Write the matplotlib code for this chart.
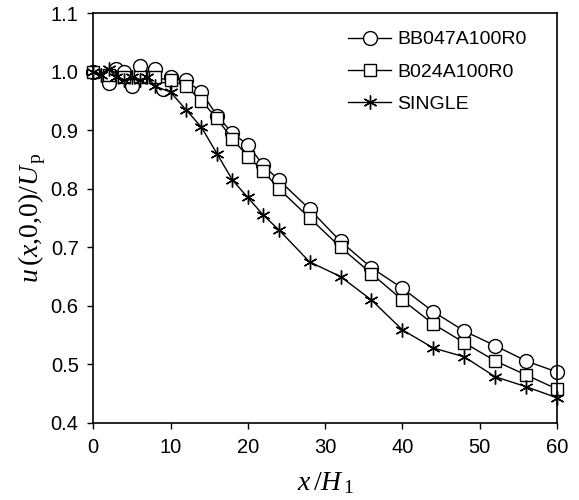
import numpy as np
import matplotlib
matplotlib.use("Agg")
import matplotlib.pyplot as plt

plt.rcParams['font.family'] = ['Liberation Sans', 'DejaVu Sans']
plt.rcParams['mathtext.fontset'] = 'custom'
plt.rcParams['mathtext.rm'] = 'Liberation Serif'
plt.rcParams['mathtext.it'] = 'Liberation Serif:italic'

# data
x_bb = [0, 2, 3, 4, 5, 6, 8, 9, 10, 12, 14, 16, 18, 20, 22, 24, 28, 32, 36, 40, 44, 48, 52, 56, 60]
y_bb = [1.0, 0.98, 1.005, 1.0, 0.975, 1.01, 1.005, 0.97, 0.99, 0.985, 0.965, 0.925, 0.895, 0.875,
        0.84, 0.815, 0.765, 0.71, 0.665, 0.63, 0.59, 0.557, 0.532, 0.506, 0.487]

x_b = [0, 2, 4, 6, 8, 10, 12, 14, 16, 18, 20, 22, 24, 28, 32, 36, 40, 44, 48, 52, 56, 60]
y_b = [1.0, 0.995, 0.99, 0.99, 0.99, 0.985, 0.975, 0.95, 0.92, 0.885, 0.855, 0.83, 0.8,
       0.75, 0.7, 0.655, 0.61, 0.569, 0.537, 0.506, 0.482, 0.458]

x_s = [0, 1, 2, 3, 4, 5, 6, 7, 8, 10, 12, 14, 16, 18, 20, 22, 24, 28, 32, 36, 40, 44, 48, 52, 56, 60]
y_s = [1.0, 0.995, 1.005, 0.99, 0.985, 0.99, 0.985, 0.99, 0.975, 0.965, 0.935, 0.905, 0.86,
       0.815, 0.785, 0.755, 0.73, 0.675, 0.65, 0.61, 0.559, 0.528, 0.513, 0.479, 0.462, 0.443]

fig = plt.figure(figsize=(5.79, 5.0), dpi=100)
ax = fig.add_axes([0.161, 0.154, 0.801, 0.82])

ax.plot(x_bb, y_bb, color='black', lw=1, marker='o', ms=10, mfc='white', mec='black',
        mew=1, label='BB047A100R0', clip_on=False)
ax.plot(x_b, y_b, color='black', lw=1, marker='s', ms=8, mfc='white', mec='black',
        mew=1, label='B024A100R0', clip_on=False)
ax.plot(x_s, y_s, color='black', lw=1, marker=(6, 2, 0), ms=10, mec='black',
        mew=1, label='SINGLE', clip_on=False)

ax.set_xlim(0, 60)
ax.set_ylim(0.4, 1.1)
ax.set_xticks(np.arange(0, 61, 10))
ax.set_yticks(np.arange(0.4, 1.11, 0.1))
ax.yaxis.set_major_formatter(matplotlib.ticker.FormatStrFormatter('%.1f'))
ax.tick_params(direction='out', length=4, width=1, labelsize=14.5)
ax.tick_params(axis='x', pad=7)
ax.tick_params(axis='y', pad=6.5)
for s in ax.spines.values():
    s.set_linewidth(1.2)

ax.set_xlabel(r'$x\,/H_{\,1}$', fontsize=20, labelpad=9)
ax.set_ylabel(r'$u\,(x{,}0{,}0)/U_{\,\mathrm{p}}$', fontsize=20, labelpad=2)

ax.legend(loc='upper right', bbox_to_anchor=(0.959, 0.985), frameon=False, fontsize=14,
          handlelength=2.2, handletextpad=0.3, labelspacing=0.75, borderaxespad=0.2)

fig.savefig('out.png', dpi=100)
